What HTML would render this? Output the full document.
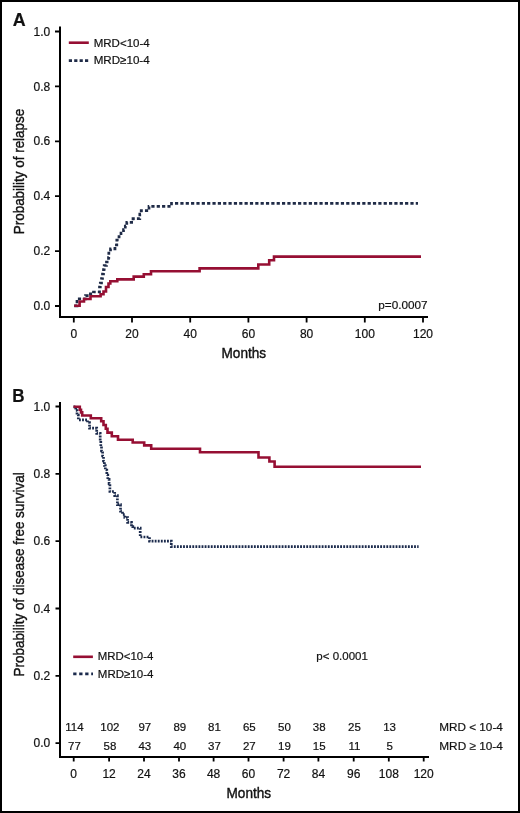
<!DOCTYPE html>
<html><head><meta charset="utf-8"><style>
html,body{margin:0;padding:0;background:#fff;}
svg{display:block;will-change:transform;}
.ttl{stroke-width:0.4px;}
text{font-family:"Liberation Sans",sans-serif;fill:#111;stroke:#111;stroke-width:0.2px;}
</style></head><body>
<svg width="520" height="813" viewBox="0 0 520 813">
<rect x="0" y="0" width="520" height="813" fill="#fff"/>
<rect x="1" y="1" width="518" height="811" fill="none" stroke="#000" stroke-width="2"/>
<text transform="translate(12.65,26.3) scale(0.94,1)" x="0" y="0" font-size="19" font-weight="bold">A</text>
<path d="M60.0,26.6 V318.1 M59.0,317.1 H428" stroke="#000" stroke-width="2" fill="none"/>
<text x="50.3" y="310.1" font-size="12" text-anchor="end" font-weight="normal">0.0</text>
<text x="50.3" y="255.2" font-size="12" text-anchor="end" font-weight="normal">0.2</text>
<text x="50.3" y="200.29999999999998" font-size="12" text-anchor="end" font-weight="normal">0.4</text>
<text x="50.3" y="145.4" font-size="12" text-anchor="end" font-weight="normal">0.6</text>
<text x="50.3" y="90.5" font-size="12" text-anchor="end" font-weight="normal">0.8</text>
<text x="50.3" y="35.6" font-size="12" text-anchor="end" font-weight="normal">1.0</text>
<text x="73.8" y="338.1" font-size="12" text-anchor="middle" font-weight="normal">0</text>
<text x="132.0" y="338.1" font-size="12" text-anchor="middle" font-weight="normal">20</text>
<text x="190.2" y="338.1" font-size="12" text-anchor="middle" font-weight="normal">40</text>
<text x="248.4" y="338.1" font-size="12" text-anchor="middle" font-weight="normal">60</text>
<text x="306.6" y="338.1" font-size="12" text-anchor="middle" font-weight="normal">80</text>
<text x="364.8" y="338.1" font-size="12" text-anchor="middle" font-weight="normal">100</text>
<text x="423.0" y="338.1" font-size="12" text-anchor="middle" font-weight="normal">120</text>
<path d="M55,306.0 H60 M55,251.1 H60 M55,196.2 H60 M55,141.3 H60 M55,86.4 H60 M55,31.5 H60 M73.8,317.1 V322.5 M132.0,317.1 V322.5 M190.2,317.1 V322.5 M248.4,317.1 V322.5 M306.6,317.1 V322.5 M364.8,317.1 V322.5 M423.0,317.1 V322.5" stroke="#000" stroke-width="1.8" fill="none"/>
<text x="243.8" y="358.2" font-size="14.8" text-anchor="middle" font-weight="normal" textLength="44.6" lengthAdjust="spacingAndGlyphs" class="ttl">Months</text>
<text class="ttl" transform="translate(23.7,171.5) rotate(-90)" x="0" y="0" font-size="14.8" text-anchor="middle" textLength="125.5" lengthAdjust="spacingAndGlyphs">Probability of relapse</text>
<path d="M68.8,42.7 H88.8" stroke="#960f33" stroke-width="2.6"/>
<path d="M68.8,60.6 H88.8" stroke="#1f2b47" stroke-width="2.7" stroke-dasharray="3.2 2.2"/>
<text x="93.7" y="46.9" font-size="11.5" text-anchor="start" font-weight="normal" textLength="56" lengthAdjust="spacingAndGlyphs">MRD&lt;10-4</text>
<text x="93.7" y="64.0" font-size="11.5" text-anchor="start" font-weight="normal" textLength="56" lengthAdjust="spacingAndGlyphs">MRD≥10-4</text>
<text x="427.6" y="309.2" font-size="11.8" text-anchor="end" font-weight="normal" textLength="49.3" lengthAdjust="spacingAndGlyphs">p=0.0007</text>
<polyline points="74.2,305.8 77.0,305.8 77.0,298.8 85.5,298.8 85.5,295.6 90.4,295.6 90.4,293.8 93.5,293.8 93.5,292.0 99.5,292.0 99.5,287.0 100.3,287.0 100.3,283.0 101.5,283.0 101.5,278.5 102.5,278.5 102.5,274.0 103.5,274.0 103.5,269.5 104.2,269.5 104.2,265.5 106.5,265.5 106.5,262.0 108.5,262.0 108.5,257.5 108.8,257.5 108.8,253.0 110.5,253.0 110.5,248.8 115.0,248.8 115.0,245.0 116.8,245.0 116.8,240.0 119.0,240.0 119.0,236.5 121.0,236.5 121.0,233.0 123.5,233.0 123.5,229.5 125.3,229.5 125.3,226.0 126.8,226.0 126.8,222.3 133.0,222.3 133.0,218.7 139.8,218.7 139.8,214.2 141.2,214.2 141.2,210.7 149.0,210.7 149.0,206.4 171.5,206.4 171.5,203.3 418.0,203.3" fill="none" stroke="#1f2b47" stroke-width="2.7" stroke-dasharray="3.2 2.15"/>
<polyline points="74.2,305.8 79.6,305.8 79.6,301.5 84.0,301.5 84.0,299.0 90.5,299.0 90.5,296.3 100.6,296.3 100.6,294.2 103.5,294.2 103.5,291.5 106.0,291.5 106.0,287.0 108.5,287.0 108.5,283.5 110.3,283.5 110.3,281.3 117.3,281.3 117.3,279.4 133.7,279.4 133.7,276.6 143.8,276.6 143.8,274.2 151.0,274.2 151.0,271.2 199.6,271.2 199.6,268.4 258.3,268.4 258.3,264.5 269.2,264.5 269.2,260.2 274.0,260.2 274.0,256.6 421.0,256.6" fill="none" stroke="#960f33" stroke-width="2.6" stroke-linejoin="miter"/>
<text transform="translate(12.26,401.6) scale(0.92,1)" x="0" y="0" font-size="18.5" font-weight="bold">B</text>
<path d="M60,402 V757.9 M59,756.9 H429" stroke="#000" stroke-width="2" fill="none"/>
<text x="50.3" y="747.1999999999999" font-size="12" text-anchor="end" font-weight="normal">0.0</text>
<text x="50.3" y="679.88" font-size="12" text-anchor="end" font-weight="normal">0.2</text>
<text x="50.3" y="612.5600000000001" font-size="12" text-anchor="end" font-weight="normal">0.4</text>
<text x="50.3" y="545.24" font-size="12" text-anchor="end" font-weight="normal">0.6</text>
<text x="50.3" y="477.92" font-size="12" text-anchor="end" font-weight="normal">0.8</text>
<text x="50.3" y="410.6" font-size="12" text-anchor="end" font-weight="normal">1.0</text>
<text x="73.7" y="777.6" font-size="12" text-anchor="middle" font-weight="normal">0</text>
<text x="109.1" y="777.6" font-size="12" text-anchor="middle" font-weight="normal">12</text>
<text x="144.0" y="777.6" font-size="12" text-anchor="middle" font-weight="normal">24</text>
<text x="179.0" y="777.6" font-size="12" text-anchor="middle" font-weight="normal">36</text>
<text x="213.6" y="777.6" font-size="12" text-anchor="middle" font-weight="normal">48</text>
<text x="248.5" y="777.6" font-size="12" text-anchor="middle" font-weight="normal">60</text>
<text x="283.6" y="777.6" font-size="12" text-anchor="middle" font-weight="normal">72</text>
<text x="318.4" y="777.6" font-size="12" text-anchor="middle" font-weight="normal">84</text>
<text x="353.7" y="777.6" font-size="12" text-anchor="middle" font-weight="normal">96</text>
<text x="388.8" y="777.6" font-size="12" text-anchor="middle" font-weight="normal">108</text>
<text x="423.7" y="777.6" font-size="12" text-anchor="middle" font-weight="normal">120</text>
<path d="M55.5,743.1 H60 M55.5,675.8 H60 M55.5,608.5 H60 M55.5,541.1 H60 M55.5,473.8 H60 M55.5,406.5 H60 M73.7,756.9 V761.5 M109.1,756.9 V761.5 M144.0,756.9 V761.5 M179.0,756.9 V761.5 M213.6,756.9 V761.5 M248.5,756.9 V761.5 M283.6,756.9 V761.5 M318.4,756.9 V761.5 M353.7,756.9 V761.5 M388.8,756.9 V761.5 M423.7,756.9 V761.5" stroke="#000" stroke-width="1.8" fill="none"/>
<text x="248.8" y="798.3" font-size="14.8" text-anchor="middle" font-weight="normal" textLength="44.6" lengthAdjust="spacingAndGlyphs" class="ttl">Months</text>
<text class="ttl" transform="translate(23.8,574.4) rotate(-90)" x="0" y="0" font-size="14.8" text-anchor="middle" textLength="204.3" lengthAdjust="spacingAndGlyphs">Probability of disease free survival</text>
<path d="M73.2,656.8 H92.9" stroke="#960f33" stroke-width="2.6"/>
<path d="M73.2,673.9 H93" stroke="#1b2a4c" stroke-width="2.6" stroke-dasharray="3.3 2.7"/>
<text x="97.8" y="660.1" font-size="11.5" text-anchor="start" font-weight="normal" textLength="55.6" lengthAdjust="spacingAndGlyphs">MRD&lt;10-4</text>
<text x="97.8" y="678.0" font-size="11.5" text-anchor="start" font-weight="normal" textLength="55.6" lengthAdjust="spacingAndGlyphs">MRD≥10-4</text>
<text x="316.3" y="660.1" font-size="11.8" text-anchor="start" font-weight="normal" textLength="51.6" lengthAdjust="spacingAndGlyphs">p&lt; 0.0001</text>
<text x="74.5" y="731.3" font-size="11.5" text-anchor="middle" font-weight="normal">114</text>
<text x="74.5" y="749.7" font-size="11.5" text-anchor="middle" font-weight="normal">77</text>
<text x="109.9" y="731.3" font-size="11.5" text-anchor="middle" font-weight="normal">102</text>
<text x="109.9" y="749.7" font-size="11.5" text-anchor="middle" font-weight="normal">58</text>
<text x="144.8" y="731.3" font-size="11.5" text-anchor="middle" font-weight="normal">97</text>
<text x="144.8" y="749.7" font-size="11.5" text-anchor="middle" font-weight="normal">43</text>
<text x="179.8" y="731.3" font-size="11.5" text-anchor="middle" font-weight="normal">89</text>
<text x="179.8" y="749.7" font-size="11.5" text-anchor="middle" font-weight="normal">40</text>
<text x="214.4" y="731.3" font-size="11.5" text-anchor="middle" font-weight="normal">81</text>
<text x="214.4" y="749.7" font-size="11.5" text-anchor="middle" font-weight="normal">37</text>
<text x="249.3" y="731.3" font-size="11.5" text-anchor="middle" font-weight="normal">65</text>
<text x="249.3" y="749.7" font-size="11.5" text-anchor="middle" font-weight="normal">27</text>
<text x="284.4" y="731.3" font-size="11.5" text-anchor="middle" font-weight="normal">50</text>
<text x="284.4" y="749.7" font-size="11.5" text-anchor="middle" font-weight="normal">19</text>
<text x="319.2" y="731.3" font-size="11.5" text-anchor="middle" font-weight="normal">38</text>
<text x="319.2" y="749.7" font-size="11.5" text-anchor="middle" font-weight="normal">15</text>
<text x="354.5" y="731.3" font-size="11.5" text-anchor="middle" font-weight="normal">25</text>
<text x="354.5" y="749.7" font-size="11.5" text-anchor="middle" font-weight="normal">11</text>
<text x="389.6" y="731.3" font-size="11.5" text-anchor="middle" font-weight="normal">13</text>
<text x="389.6" y="749.7" font-size="11.5" text-anchor="middle" font-weight="normal">5</text>
<text x="439.3" y="731.3" font-size="11.8" text-anchor="start" font-weight="normal" textLength="63.5" lengthAdjust="spacingAndGlyphs">MRD &lt; 10-4</text>
<text x="439.3" y="749.7" font-size="11.8" text-anchor="start" font-weight="normal" textLength="63.5" lengthAdjust="spacingAndGlyphs">MRD ≥ 10-4</text>
<polyline points="73.5,406.8 75.8,406.8 75.8,410.5 77.0,410.5 77.0,415.0 78.3,415.0 78.3,419.8 87.5,419.8 87.5,422.5 89.5,422.5 89.5,428.2 96.7,428.2 96.7,433.4 100.2,433.4 100.2,440.5 100.8,440.5 100.8,446.5 101.5,446.5 101.5,451.0 102.6,451.0 102.6,456.0 103.5,456.0 103.5,461.0 104.4,461.0 104.4,465.5 105.3,465.5 105.3,470.0 106.8,470.0 106.8,475.0 107.8,475.0 107.8,479.3 109.1,479.3 109.1,483.6 109.9,483.6 109.9,491.5 114.7,491.5 114.7,495.6 117.4,495.6 117.4,504.6 120.5,504.6 120.5,511.2 122.5,511.2 122.5,514.5 124.8,514.5 124.8,517.5 127.6,517.5 127.6,522.4 131.5,522.4 131.5,526.5 132.8,526.5 132.8,528.2 140.2,528.2 140.2,537.0 149.5,537.0 149.5,541.2 171.3,541.2 171.3,546.7 418.6,546.7" fill="none" stroke="#1b2a4c" stroke-width="2.7" stroke-dasharray="1.85 1.23"/>
<polyline points="73.5,406.8 79.8,406.8 79.8,409.7 81.0,409.7 81.0,412.4 82.2,412.4 82.2,415.5 90.8,415.5 90.8,418.2 101.2,418.2 101.2,421.3 103.5,421.3 103.5,425.0 105.8,425.0 105.8,428.8 107.5,428.8 107.5,432.6 111.8,432.6 111.8,436.2 118.0,436.2 118.0,439.7 132.7,439.7 132.7,442.5 144.2,442.5 144.2,445.4 151.2,445.4 151.2,448.7 200.0,448.7 200.0,452.3 258.5,452.3 258.5,457.5 269.4,457.5 269.4,461.5 274.6,461.5 274.6,466.7 421.0,466.7" fill="none" stroke="#960f33" stroke-width="2.6"/>
</svg>
</body></html>
